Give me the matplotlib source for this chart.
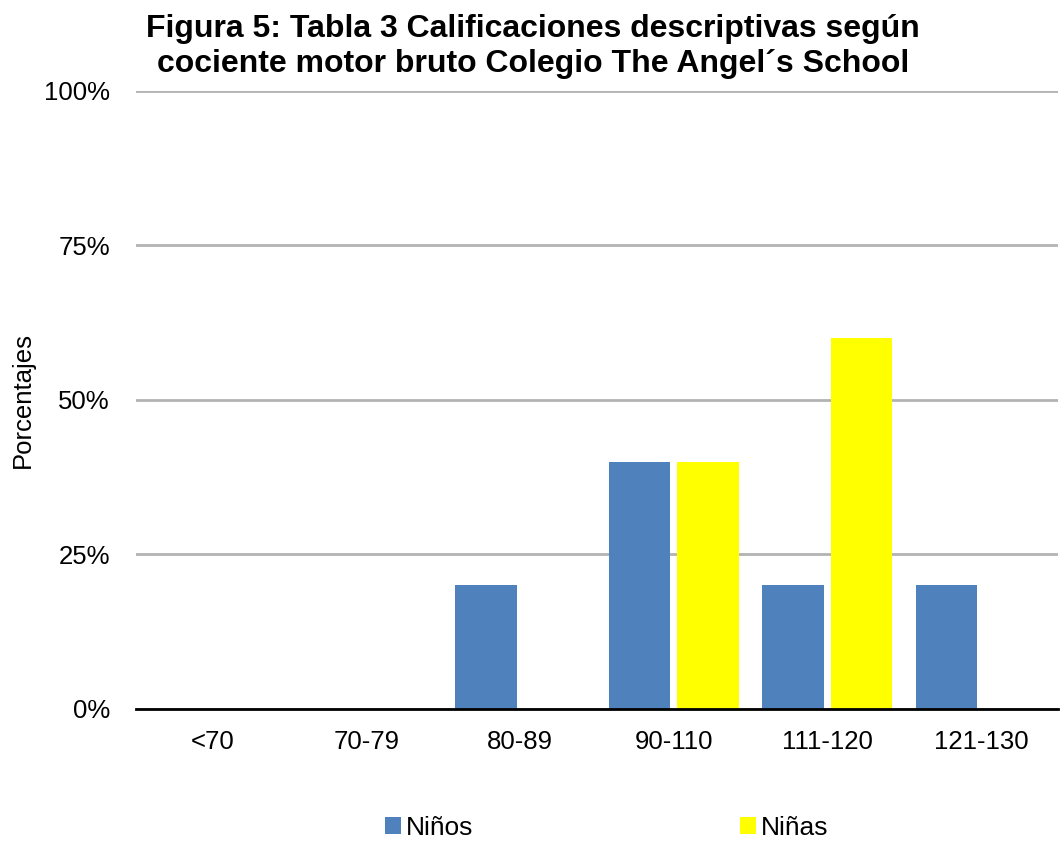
import matplotlib.pyplot as plt
import numpy as np
from matplotlib.ticker import PercentFormatter

plt.rcParams['font.family'] = ['Liberation Sans', 'DejaVu Sans']

categories = ['<70', '70-79', '80-89', '90-110', '111-120', '121-130']
ninos = [0, 0, 20, 40, 20, 20]
ninas = [0, 0, 0, 40, 60, 0]

fig = plt.figure(figsize=(10.64, 8.44), dpi=100)
ax = fig.add_axes([0.1280, 0.16, 0.8660, 0.7322])

x = np.arange(len(categories))
width = 0.40
ax.bar(x - 0.2225, ninos, width, color='#4F81BD', label='Niños', zorder=3)
ax.bar(x + 0.2225, ninas, width, color='#FFFF00', label='Niñas', zorder=3)

ax.set_xlim(-0.5, len(categories) - 0.5)
ax.set_ylim(0, 100)
ax.set_yticks([0, 25, 50, 75, 100])
ax.yaxis.set_major_formatter(PercentFormatter(decimals=0))
ax.set_xticks(x)
ax.set_xticklabels(categories)
ax.tick_params(axis='both', length=0, labelsize=18.5)
ax.tick_params(axis='x', pad=15)
ax.tick_params(axis='y', pad=19)

ax.grid(axis='y', color='#B3B3B3', linewidth=2, zorder=0)
for s in ['top', 'right', 'left']:
    ax.spines[s].set_visible(False)
ax.spines['bottom'].set_color('black')
ax.spines['bottom'].set_linewidth(2)
ax.spines['bottom'].set_zorder(4)

ax.set_ylabel('Porcentajes', fontsize=18.5)
ax.yaxis.set_label_coords(-0.110, 0.5)

fig.suptitle('Figura 5: Tabla 3 Calificaciones descriptivas según\ncociente motor bruto Colegio The Angel´s School',
             fontsize=23, fontweight='bold', x=0.501, y=0.984, va='top', linespacing=1.22)

fig.legend(loc='center', bbox_to_anchor=(0.570, 0.019), ncol=2, frameon=False,
           fontsize=19, handlelength=0.6, handleheight=0.6, handletextpad=0.2,
           columnspacing=10.1)

fig.savefig('out.png', dpi=100)
